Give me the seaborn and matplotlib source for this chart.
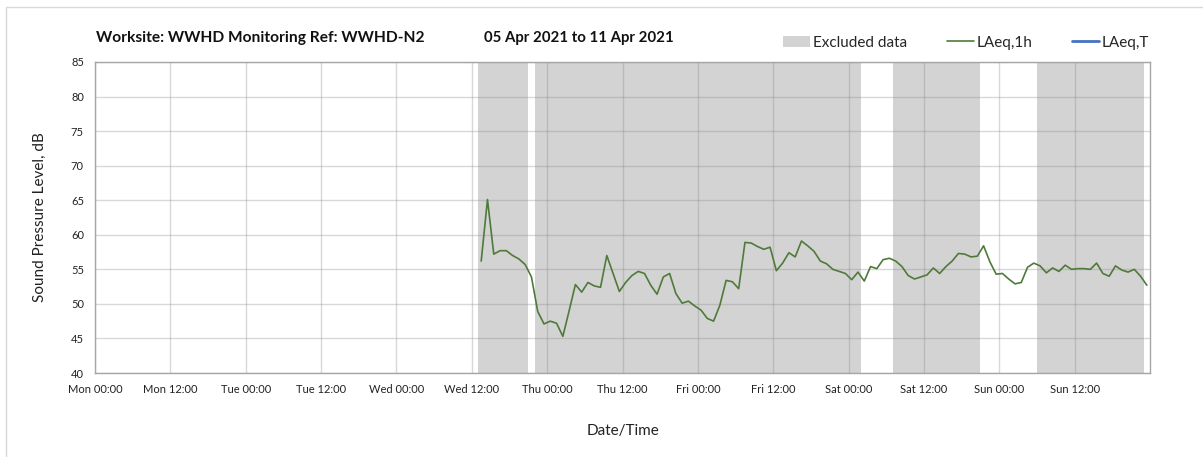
import pandas as pd
import numpy as np
import matplotlib
matplotlib.use("Agg")
import matplotlib.pyplot as plt
import matplotlib.dates as mdates
from matplotlib.patches import Patch, Rectangle
from matplotlib.lines import Line2D
import seaborn as sns

# --- DATA ---
TITLE_SITE = "Worksite: WWHD Monitoring Ref: WWHD-N2"
TITLE_PERIOD = "05 Apr 2021 to 11 Apr 2021"

AXIS_START = "2021-04-05 00:00"
AXIS_END = "2021-04-12 00:00"

# hourly LAeq,1h readings, first one plotted at Wed 13:30
FIRST_READING = "2021-04-07 13:30"
laeq_1h = [
    56.2, 65.1, 57.2, 57.7, 57.7, 57.0, 56.5, 55.7, 53.9, 48.9,
    47.1, 47.5, 47.2, 45.3, 49.0, 52.8, 51.7, 53.1, 52.6, 52.4,
    57.0, 54.4, 51.8, 53.1, 54.1, 54.7, 54.4, 52.7, 51.4, 53.9,
    54.4, 51.5, 50.1, 50.4, 49.7, 49.1, 47.9, 47.5, 49.8, 53.4,
    53.2, 52.2, 58.9, 58.8, 58.3, 57.9, 58.2, 54.8, 55.9, 57.4,
    56.8, 59.1, 58.4, 57.6, 56.2, 55.8, 55.0, 54.7, 54.4, 53.5,
    54.6, 53.3, 55.4, 55.1, 56.4, 56.6, 56.2, 55.4, 54.1, 53.6,
    53.9, 54.2, 55.2, 54.4, 55.4, 56.2, 57.3, 57.2, 56.8, 56.9,
    58.4, 56.1, 54.3, 54.4, 53.6, 52.9, 53.1, 55.3, 55.9, 55.5,
    54.5, 55.2, 54.7, 55.6, 55.0, 55.1, 55.1, 55.0, 55.9, 54.4,
    54.0, 55.5, 54.9, 54.6, 55.0, 54.0, 52.7,
]

# excluded periods (start, end)
excluded_start = ["2021-04-07 13:00", "2021-04-07 22:00", "2021-04-10 07:00", "2021-04-11 06:00"]
excluded_end = ["2021-04-07 21:00", "2021-04-10 02:00", "2021-04-10 21:00", "2021-04-11 23:00"]

y_ticks = [40, 45, 50, 55, 60, 65, 70, 75, 80, 85]

# --- BUILD TABLE ---
df = pd.DataFrame({
    "time": pd.date_range(FIRST_READING, periods=len(laeq_1h), freq="h"),
    "LAeq,1h": laeq_1h,
})

# --- STYLE ---
sns.set_style("white")
plt.rcParams["font.family"] = ["Lato", "DejaVu Sans"]

GREEN = "#4f7a3a"
BLUE = "#4472c4"
SPAN_GREY = "#d3d3d3"
AXIS_GREY = "#a6a6a6"

fig = plt.figure(figsize=(12.03, 4.57), dpi=100)
ax = fig.add_axes([95 / 1203, 1 - 373 / 457, (1150 - 95) / 1203, (373 - 62) / 457])

# excluded data shading
for s, e in zip(excluded_start, excluded_end):
    ax.axvspan(pd.Timestamp(s), pd.Timestamp(e), color=SPAN_GREY, lw=0, zorder=1)

sns.lineplot(data=df, x="time", y="LAeq,1h", ax=ax, color=GREEN, linewidth=1.2, zorder=2)

ax.set_xlim(pd.Timestamp(AXIS_START), pd.Timestamp(AXIS_END))
ax.set_ylim(40, 85)
ax.set_yticks(y_ticks)

ax.xaxis.set_major_locator(mdates.HourLocator(byhour=[0, 12]))
ax.xaxis.set_major_formatter(mdates.DateFormatter("%a %H:%M"))

ax.set_axisbelow("line")
ax.grid(True, color="#888888", alpha=0.32, linewidth=1)

for sp in ax.spines.values():
    sp.set_color(AXIS_GREY)
    sp.set_linewidth(1)

ax.tick_params(axis="both", which="major", direction="out", length=4, width=1,
               color=AXIS_GREY, labelsize=8, labelcolor="#222222", pad=4)
# drop the tick at the axis end
ax.set_xticks(ax.get_xticks()[:-1])

ax.set_xlabel("Date/Time", fontsize=11, color="#222222", labelpad=21)
ax.set_ylabel("Sound Pressure Level, dB", fontsize=11, color="#222222", labelpad=17)

# legend
handles = [
    Patch(facecolor=SPAN_GREY, edgecolor="none", label="Excluded data"),
    Line2D([], [], color=GREEN, lw=1.2, label="LAeq,1h"),
    Line2D([], [], color=BLUE, lw=2, label="LAeq,T"),
]
ax.legend(handles=handles, ncol=3, loc="lower right", bbox_to_anchor=(1.005, 1.02),
          frameon=False, fontsize=11, handlelength=1.8, handletextpad=0.15,
          columnspacing=2.6, borderaxespad=0)

# title
fig.text(96 / 1203, 1 - 42 / 457, TITLE_SITE, fontsize=11.2, fontweight="bold", color="#111111")
fig.text(484 / 1203, 1 - 42 / 457, TITLE_PERIOD, fontsize=10.8, fontweight="bold", color="#111111")

# outer frame
fig.patches.append(Rectangle((6 / 1203, -0.05), 1.1, 1 - 7 / 457 + 0.05,
                             transform=fig.transFigure, fill=False,
                             edgecolor="#d9d9d9", linewidth=1))

fig.savefig("out.png", dpi=100)
